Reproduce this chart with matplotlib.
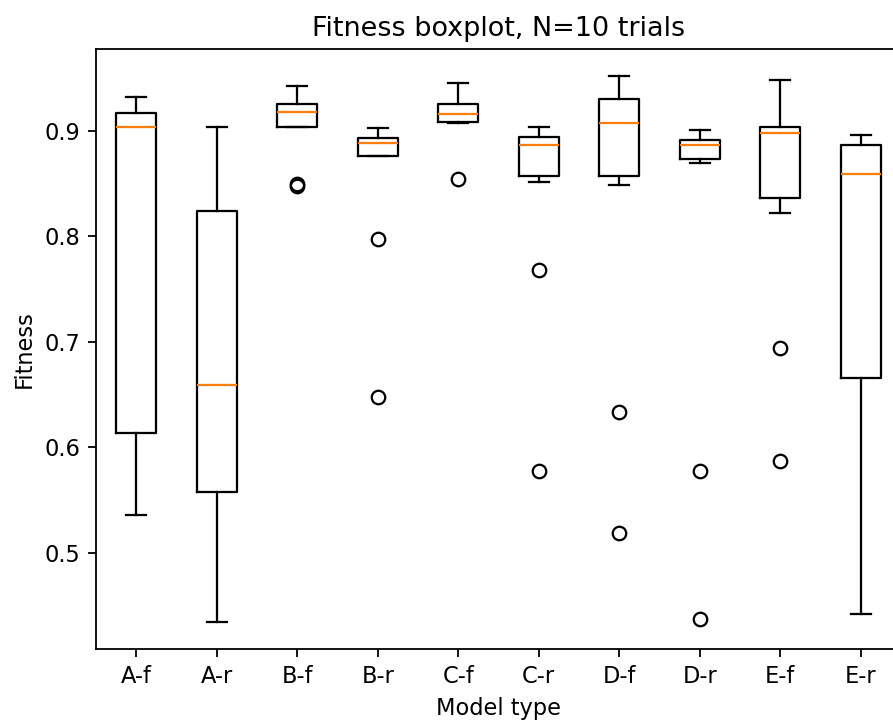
import numpy as np
import matplotlib
matplotlib.use("Agg")
import matplotlib.pyplot as plt

labels = ['A-f', 'A-r', 'B-f', 'B-r', 'C-f', 'C-r', 'D-f', 'D-r', 'E-f', 'E-r']
med = [0.9036, 0.6587, 0.9175, 0.8885, 0.9159, 0.8866, 0.9071, 0.8866, 0.8973, 0.8589]
q1 = [0.6130, 0.5572, 0.9036, 0.8759, 0.9083, 0.8573, 0.8573, 0.8728, 0.8359, 0.6653]
q3 = [0.9163, 0.8236, 0.9253, 0.8926, 0.9253, 0.8941, 0.9295, 0.8913, 0.9033, 0.8866]
whislo = [0.5355, 0.4343, 0.9036, 0.8759, 0.9070, 0.8510, 0.8482, 0.8696, 0.8217, 0.4416]
whishi = [0.9317, 0.9036, 0.9424, 0.9021, 0.9452, 0.9033, 0.9515, 0.9002, 0.9484, 0.8957]
fliers = [[], [], [0.8475, 0.8490], [0.7970, 0.6480], [0.8544],
          [0.7681, 0.5771], [0.6338, 0.5184], [0.5771, 0.4368],
          [0.6940, 0.5865], []]

stats = []
for i in range(len(labels)):
    stats.append(dict(label=labels[i], med=med[i], q1=q1[i], q3=q3[i],
                      whislo=whislo[i], whishi=whishi[i], fliers=fliers[i]))

dpi = 162
fig = plt.figure(figsize=(893 / dpi, 722 / dpi), dpi=dpi)
ax = fig.add_axes([96 / 893, 72.7 / 722, 805 / 893, 600.3 / 722])
ax.bxp(stats)
ax.set_title('Fitness boxplot, N=10 trials')
ax.set_xlabel('Model type')
ax.set_ylabel('Fitness')

fig.savefig('out.png', dpi=dpi)
